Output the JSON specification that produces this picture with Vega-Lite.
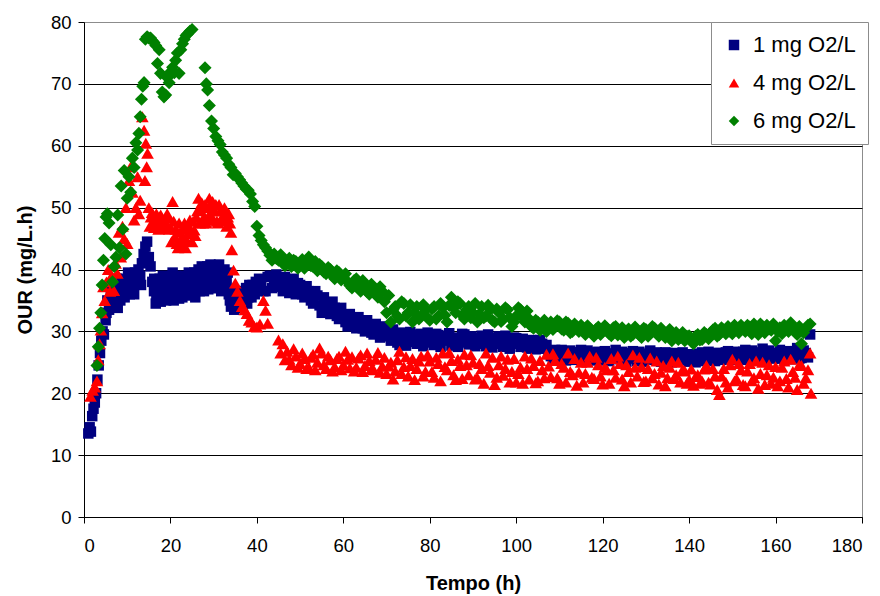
{
  "$schema": "https://vega.github.io/schema/vega-lite/v6.json",
  "width": 778,
  "height": 495,
  "autosize": {"type": "none"},
  "padding": {"left": 84, "top": 22, "right": 18, "bottom": 79},
  "background": "white",
  "config": {
    "view": {"stroke": "#8c8c8c", "strokeWidth": 1},
    "font": "Liberation Sans",
    "axis": {
      "domainColor": "black",
      "tickColor": "black",
      "labelColor": "black",
      "titleColor": "black",
      "labelFont": "Liberation Sans",
      "titleFont": "Liberation Sans",
      "labelFontSize": 18.5,
      "titleFontSize": 20,
      "titleFontWeight": "bold",
      "tickSize": 6
    },
    "legend": {
      "labelFont": "Liberation Sans",
      "labelFontSize": 22,
      "labelColor": "black"
    }
  },
  "datasets": {
    "b": [
      {"t":1.0,"v":13.5},{"t":1.3,"v":14.5},{"t":1.6,"v":13.8},{"t":1.9,"v":16.3},{"t":2.2,"v":17.5},{"t":2.5,"v":18.5},{"t":2.8,"v":20},{"t":3.1,"v":22.2},{"t":3.4,"v":24.5},{"t":3.7,"v":26.5},
      {"t":4.0,"v":28.5},{"t":4.3,"v":30},{"t":4.6,"v":29.5},{"t":5.0,"v":31.8},{"t":5.4,"v":35},{"t":5.8,"v":33.5},{"t":6.2,"v":36},{"t":6.6,"v":34.5},{"t":7.0,"v":37},{"t":7.4,"v":35.5},
      {"t":7.8,"v":33.8},{"t":8.2,"v":37.5},{"t":8.6,"v":36},{"t":9.0,"v":38.5},{"t":9.4,"v":35.5},{"t":9.8,"v":37},{"t":10.2,"v":39.5},{"t":10.6,"v":36},{"t":11.0,"v":38},{"t":11.4,"v":37},
      {"t":11.8,"v":39.5},{"t":12.2,"v":38},{"t":12.6,"v":40},{"t":13.0,"v":39},{"t":13.4,"v":41},{"t":13.8,"v":42.5},{"t":14.2,"v":43.7},{"t":14.6,"v":44.5},{"t":15.0,"v":42},{"t":15.4,"v":40.5},
      {"t":5.2,"v":33},{"t":6.0,"v":37.5},{"t":6.8,"v":36},{"t":7.6,"v":38.5},{"t":8.4,"v":35},{"t":9.2,"v":36.8},{"t":10.0,"v":37.5},{"t":10.8,"v":38.5},{"t":11.6,"v":36},{"t":12.4,"v":39},{"t":13.2,"v":37.5},
      {"t":15.8,"v":38},{"t":16.2,"v":36.5},{"t":16.6,"v":34.5},{"t":17.0,"v":35.5},{"t":17.5,"v":38.5},{"t":18.0,"v":36},{"t":18.5,"v":37.5},{"t":19.0,"v":35},{"t":19.5,"v":38.8},{"t":20.0,"v":35.5},
      {"t":20.5,"v":39.5},{"t":21.0,"v":36.5},{"t":21.5,"v":38},{"t":22.0,"v":35.3},{"t":22.5,"v":37.5},{"t":23.0,"v":36.5},{"t":23.5,"v":39},{"t":24.0,"v":37},{"t":24.5,"v":38.5},{"t":25.0,"v":36},
      {"t":25.5,"v":39.5},{"t":26.0,"v":37.5},{"t":26.5,"v":40},{"t":27.0,"v":38},{"t":27.5,"v":39.5},{"t":28.0,"v":37.5},{"t":28.5,"v":40.5},{"t":29.0,"v":38.5},{"t":29.5,"v":39.8},{"t":30.0,"v":37.8},
      {"t":30.5,"v":40.5},{"t":31.0,"v":38.5},{"t":31.5,"v":39.5},{"t":32.0,"v":37.5},{"t":32.5,"v":40},{"t":33.0,"v":38},{"t":33.5,"v":36},{"t":34.0,"v":34},{"t":34.5,"v":35.5},{"t":35.0,"v":33.8},
      {"t":35.5,"v":36.5},{"t":36.0,"v":34.5},{"t":36.5,"v":36},{"t":37.0,"v":35},{"t":37.5,"v":37},{"t":38.0,"v":35.5},{"t":38.5,"v":36.5},{"t":39.0,"v":37.5},{"t":39.5,"v":36},{"t":40,"v":37},
      {"t":16.25,"v":38.5},{"t":16.75,"v":36},{"t":17.25,"v":37},{"t":17.75,"v":34.8},{"t":18.25,"v":39},{"t":18.75,"v":35.5},{"t":19.25,"v":37.5},{"t":19.75,"v":36.5},{"t":20.25,"v":37.8},{"t":20.75,"v":35},
      {"t":21.25,"v":39},{"t":21.75,"v":36.8},{"t":22.25,"v":38.8},{"t":22.75,"v":35.5},{"t":23.25,"v":37.8},{"t":23.75,"v":35.8},{"t":24.25,"v":39.5},{"t":24.75,"v":36.8},{"t":25.25,"v":38},{"t":25.75,"v":35.5},
      {"t":26.25,"v":38.8},{"t":26.75,"v":36.5},{"t":27.25,"v":40.5},{"t":27.75,"v":36.5},{"t":28.25,"v":38.8},{"t":28.75,"v":36.8},{"t":29.25,"v":40.8},{"t":29.75,"v":37},{"t":30.25,"v":39.2},{"t":30.75,"v":37},
      {"t":31.25,"v":40.8},{"t":31.75,"v":36.5},{"t":32.25,"v":38.8},{"t":32.75,"v":37.2},{"t":33.25,"v":39.5},{"t":33.75,"v":35},{"t":34.25,"v":36.8},{"t":34.75,"v":33.5},{"t":35.25,"v":35},{"t":35.75,"v":34},
      {"t":36.25,"v":36.5},{"t":36.75,"v":34},{"t":37.25,"v":36},{"t":37.75,"v":34.5},{"t":38.25,"v":37.5},{"t":38.75,"v":35.5},{"t":39.25,"v":36.5},{"t":39.75,"v":38},
      {"t":41,"v":38},{"t":42,"v":36.5},{"t":43,"v":39},{"t":44,"v":37.5},{"t":45,"v":38.5},{"t":46,"v":36.5},{"t":47,"v":38},{"t":48,"v":37},{"t":49,"v":36},{"t":50,"v":37.5},
      {"t":51,"v":35.5},{"t":52,"v":36.5},{"t":53,"v":34.5},{"t":54,"v":35.8},{"t":55,"v":33},{"t":56,"v":34.5},{"t":57,"v":32.8},{"t":58,"v":33.8},{"t":59,"v":32},{"t":60,"v":32.5},
      {"t":61,"v":30.8},{"t":62,"v":32},{"t":63,"v":30.5},{"t":64,"v":31.5},{"t":65,"v":30},{"t":66,"v":31},{"t":67,"v":29.5},{"t":68,"v":30.5},{"t":69,"v":29.2},{"t":70,"v":30},
      {"t":71,"v":28.5},{"t":72,"v":29.5},{"t":73,"v":27.8},{"t":74,"v":29.3},{"t":75,"v":28.3},{"t":76,"v":29.5},{"t":77,"v":28},{"t":78,"v":29.6},{"t":79,"v":28.2},{"t":80,"v":29},
      {"t":81,"v":27.8},{"t":82,"v":29.4},{"t":83,"v":28.5},{"t":84,"v":29.2},{"t":85,"v":27.7},{"t":86,"v":29},{"t":87,"v":28.2},{"t":88,"v":29.5},{"t":89,"v":27.9},{"t":90,"v":28.8},
      {"t":91,"v":28},{"t":92,"v":29.3},{"t":93,"v":27.6},{"t":94,"v":28.7},{"t":95,"v":28.4},{"t":96,"v":29.2},{"t":97,"v":27.5},{"t":98,"v":28.5},{"t":99,"v":28},{"t":100,"v":28.9},
      {"t":101,"v":27.5},{"t":102,"v":28.3},{"t":103,"v":27.2},{"t":104,"v":28.5},{"t":105,"v":27.3},{"t":106,"v":28},{"t":107,"v":27.8},{"t":108,"v":26},{"t":109,"v":27},{"t":110,"v":25.7},
      {"t":111,"v":26.8},{"t":112,"v":25.5},{"t":113,"v":26.6},{"t":114,"v":26},{"t":115,"v":27},{"t":116,"v":25.4},{"t":117,"v":26.5},{"t":118,"v":25.8},{"t":119,"v":26.7},{"t":120,"v":25.3},
      {"t":121,"v":26.4},{"t":122,"v":25.8},{"t":123,"v":27},{"t":124,"v":25.5},{"t":125,"v":26.5},{"t":126,"v":25.9},{"t":127,"v":26.8},{"t":128,"v":25.2},{"t":129,"v":26.3},{"t":130,"v":25.8},
      {"t":131,"v":26.9},{"t":132,"v":25.4},{"t":133,"v":26.2},{"t":134,"v":25.7},{"t":135,"v":26.5},{"t":136,"v":25},{"t":137,"v":26},{"t":138,"v":25.4},{"t":139,"v":26.3},{"t":140,"v":25.1},
      {"t":141,"v":26},{"t":142,"v":25.3},{"t":143,"v":26.6},{"t":144,"v":25.5},{"t":145,"v":26.2},{"t":146,"v":25.2},{"t":147,"v":26.5},{"t":148,"v":25.8},{"t":149,"v":26.8},{"t":150,"v":25.4},
      {"t":151,"v":26.3},{"t":152,"v":25.9},{"t":153,"v":27},{"t":154,"v":25.5},{"t":155,"v":26.5},{"t":156,"v":26},{"t":157,"v":27.2},{"t":158,"v":25.6},{"t":159,"v":26.4},{"t":160,"v":25.8},
      {"t":161,"v":27},{"t":162,"v":25.5},{"t":163,"v":26.6},{"t":164,"v":26},{"t":165,"v":27.3},{"t":166,"v":25.7},{"t":167,"v":26.5},{"t":168,"v":29.5},
      {"t":40.5,"v":38.5},{"t":41.5,"v":36.5},{"t":42.5,"v":38.8},{"t":43.5,"v":37},{"t":44.5,"v":39.2},{"t":45.5,"v":37.2},{"t":46.5,"v":38.8},{"t":47.5,"v":36.2},{"t":48.5,"v":38.5},{"t":49.5,"v":37.8},
      {"t":50.5,"v":36},{"t":51.5,"v":37.3},{"t":52.5,"v":35},{"t":53.5,"v":36.5},{"t":54.5,"v":34.2},{"t":55.5,"v":35.5},{"t":56.5,"v":33.2},{"t":57.5,"v":34.8},{"t":58.5,"v":32.5},{"t":59.5,"v":33.8},
      {"t":60.5,"v":31.5},{"t":61.5,"v":32.8},{"t":62.5,"v":31},{"t":63.5,"v":32.3},{"t":64.5,"v":30.5},{"t":65.5,"v":31.8},{"t":66.5,"v":29.8},{"t":67.5,"v":31.2},{"t":68.5,"v":29},{"t":69.5,"v":30.8},
      {"t":70.5,"v":29.5},{"t":71.5,"v":30.3},{"t":72.5,"v":28.2},{"t":73.5,"v":29.8},{"t":74.5,"v":27.7},{"t":75.5,"v":29.9},{"t":76.5,"v":28.6},{"t":77.5,"v":29.3},{"t":78.5,"v":27.6},{"t":79.5,"v":29.8},
      {"t":80.5,"v":28.4},{"t":81.5,"v":29.6},{"t":82.5,"v":27.5},{"t":83.5,"v":28.8},{"t":84.5,"v":29.7},{"t":85.5,"v":28.3},{"t":86.5,"v":27.5},{"t":87.5,"v":29.6},{"t":88.5,"v":28.5},{"t":89.5,"v":29.2},
      {"t":90.5,"v":27.6},{"t":91.5,"v":29},{"t":92.5,"v":28.3},{"t":93.5,"v":29.5},{"t":94.5,"v":27.4},{"t":95.5,"v":29},{"t":96.5,"v":28},{"t":97.5,"v":29.3},{"t":98.5,"v":27.2},{"t":99.5,"v":29},
      {"t":100.5,"v":28},{"t":101.5,"v":28.8},{"t":102.5,"v":27.4},{"t":103.5,"v":28.6},{"t":104.5,"v":27.1},{"t":105.5,"v":28.6},{"t":106.5,"v":27.2},{"t":107.5,"v":26.5},{"t":108.5,"v":25.5},{"t":109.5,"v":26.3},
      {"t":110.5,"v":27},{"t":111.5,"v":25.3},{"t":112.5,"v":26.9},{"t":113.5,"v":25.4},{"t":114.5,"v":26.6},{"t":115.5,"v":25.6},{"t":116.5,"v":26.9},{"t":117.5,"v":25.3},{"t":118.5,"v":26.6},{"t":119.5,"v":25.6},
      {"t":120.5,"v":26.8},{"t":121.5,"v":25.2},{"t":122.5,"v":26.4},{"t":123.5,"v":25.7},{"t":124.5,"v":26.7},{"t":125.5,"v":25.1},{"t":126.5,"v":26.4},{"t":127.5,"v":25.6},{"t":128.5,"v":26.7},{"t":129.5,"v":25.1},
      {"t":130.5,"v":26.4},{"t":131.5,"v":25.5},{"t":132.5,"v":26.6},{"t":133.5,"v":25.1},{"t":134.5,"v":26.6},{"t":135.5,"v":25.4},{"t":136.5,"v":26.5},{"t":137.5,"v":25.2},{"t":138.5,"v":26.6},{"t":139.5,"v":25.4},
      {"t":140.5,"v":26.3},{"t":141.5,"v":25},{"t":142.5,"v":26.4},{"t":143.5,"v":25.2},{"t":144.5,"v":26.7},{"t":145.5,"v":25.3},{"t":146.5,"v":26.5},{"t":147.5,"v":25.4},{"t":148.5,"v":26.6},{"t":149.5,"v":25.5},
      {"t":150.5,"v":26.7},{"t":151.5,"v":25.5},{"t":152.5,"v":26.7},{"t":153.5,"v":25.4},{"t":154.5,"v":26.9},{"t":155.5,"v":25.6},{"t":156.5,"v":26.6},{"t":157.5,"v":25.5},{"t":158.5,"v":26.9},{"t":159.5,"v":25.6},
      {"t":160.5,"v":26.5},{"t":161.5,"v":25.6},{"t":162.5,"v":26.8},{"t":163.5,"v":25.5},{"t":164.5,"v":26.8},{"t":165.5,"v":25.6},{"t":166.5,"v":26.9},{"t":167.5,"v":25.8}
    ],
    "r": [
      {"t":1.5,"v":19.5},{"t":2.0,"v":20.5},{"t":2.5,"v":21},{"t":3.0,"v":22},{"t":3.3,"v":25.4},{"t":3.6,"v":28},{"t":3.9,"v":30.2},{"t":4.2,"v":33},{"t":4.5,"v":37.2},{"t":4.8,"v":35},
      {"t":5.2,"v":38},{"t":5.6,"v":40},{"t":6.0,"v":36.5},{"t":6.4,"v":39},{"t":6.9,"v":36.6},{"t":7.3,"v":41},{"t":7.7,"v":39.4},{"t":8.1,"v":46},{"t":8.5,"v":42},{"t":8.9,"v":47},
      {"t":9.3,"v":45},{"t":9.7,"v":50},{"t":10.0,"v":44.2},{"t":10.4,"v":54.4},{"t":10.8,"v":56.6},{"t":11.2,"v":52.5},{"t":11.6,"v":48},{"t":12.0,"v":50},{"t":12.4,"v":55},{"t":12.7,"v":49},
      {"t":13.0,"v":51.2},{"t":13.5,"v":64.7},{"t":13.9,"v":62.5},{"t":14.1,"v":54.4},{"t":14.3,"v":60.4},{"t":14.5,"v":56.6},{"t":14.7,"v":58.8},{"t":15.0,"v":50},{"t":15.5,"v":48.5},{"t":16.0,"v":47.5},
      {"t":16.5,"v":48.3},{"t":17.0,"v":47.8},{"t":17.5,"v":48.5},{"t":18.0,"v":47.5},{"t":18.5,"v":48},{"t":19.0,"v":47.2},{"t":19.5,"v":48.3},{"t":20.0,"v":46.8},{"t":20.5,"v":51},{"t":21.0,"v":45.3},
      {"t":21.5,"v":44.2},{"t":22.0,"v":47.5},{"t":22.5,"v":45},{"t":23.0,"v":46.5},{"t":23.5,"v":43.5},{"t":24.0,"v":45.8},{"t":24.5,"v":48},{"t":25.0,"v":44.5},{"t":25.5,"v":46.4},{"t":26.0,"v":48.5},
      {"t":26.5,"v":51.5},{"t":27.0,"v":49.6},{"t":27.5,"v":47.5},{"t":28.0,"v":50.5},{"t":28.5,"v":48},{"t":29.0,"v":51.5},{"t":29.5,"v":49.5},{"t":30.0,"v":48},{"t":30.5,"v":50.5},{"t":31.0,"v":47.5},
      {"t":31.5,"v":49.5},{"t":32.0,"v":48.5},{"t":32.5,"v":50},{"t":33.0,"v":47},{"t":33.5,"v":49},{"t":34.0,"v":46},{"t":34.2,"v":43.2},{"t":34.6,"v":39.9},{"t":35.0,"v":37.8},{"t":35.5,"v":36.5},
      {"t":15.25,"v":47},{"t":15.75,"v":49.2},{"t":16.25,"v":46.8},{"t":16.75,"v":49},{"t":17.25,"v":46.5},{"t":17.75,"v":48.8},{"t":18.25,"v":46.8},{"t":18.75,"v":47.5},{"t":19.25,"v":49},{"t":19.75,"v":46.5},
      {"t":20.25,"v":44.5},{"t":20.75,"v":47.8},{"t":21.25,"v":46.5},{"t":21.75,"v":43.5},{"t":22.25,"v":46},{"t":22.75,"v":44},{"t":23.25,"v":47.5},{"t":23.75,"v":44.8},{"t":24.25,"v":47},{"t":24.75,"v":46},
      {"t":25.25,"v":47.8},{"t":25.75,"v":45.5},{"t":26.25,"v":49.5},{"t":26.75,"v":47.5},{"t":27.25,"v":50.8},{"t":27.75,"v":48.5},{"t":28.25,"v":47.5},{"t":28.75,"v":50},{"t":29.25,"v":48.5},{"t":29.75,"v":51},
      {"t":30.25,"v":49.5},{"t":30.75,"v":47.8},{"t":31.25,"v":50.5},{"t":31.75,"v":48},{"t":32.25,"v":49.5},{"t":32.75,"v":47.8},{"t":33.25,"v":48.5},{"t":33.75,"v":47.5},
      {"t":36.1,"v":35},{"t":36.6,"v":34},{"t":37.2,"v":33.5},{"t":37.7,"v":32.9},{"t":38.2,"v":31.8},{"t":38.8,"v":31.5},{"t":39.4,"v":30.8},{"t":40.0,"v":30.7},{"t":40.7,"v":31.2},{"t":41.5,"v":35},
      {"t":42.0,"v":33.4},{"t":42.5,"v":31.3},{"t":45.0,"v":28.6},{"t":45.5,"v":26.5},{"t":46.0,"v":28},{"t":46.5,"v":25.4},{"t":47,"v":26.8},{"t":48,"v":24.6},{"t":49,"v":26},{"t":50,"v":24.8},
      {"t":51,"v":25.6},{"t":52,"v":24.2},{"t":53,"v":26.3},{"t":54,"v":25},{"t":55,"v":26.5},{"t":56,"v":24},{"t":57,"v":25.4},{"t":58,"v":24.3},{"t":59,"v":26},{"t":60,"v":24.6},
      {"t":61,"v":25.5},{"t":62,"v":25.9},{"t":63,"v":24.2},{"t":64,"v":26.2},{"t":65,"v":24.5},{"t":66,"v":25.3},{"t":67,"v":23.8},{"t":68,"v":26.6},{"t":69,"v":24.4},{"t":70,"v":23.2},
      {"t":71,"v":25},{"t":72,"v":23.6},{"t":73,"v":26.8},{"t":74,"v":24.3},{"t":75,"v":22.8},{"t":76,"v":25.6},{"t":77,"v":24},{"t":78,"v":26},{"t":79,"v":23.5},{"t":80,"v":25.2},
      {"t":81,"v":22.6},{"t":82,"v":24.8},{"t":83,"v":26.5},{"t":84,"v":23.8},{"t":85,"v":25.3},{"t":86,"v":22.2},{"t":87,"v":24.5},{"t":88,"v":26.3},{"t":89,"v":23},{"t":90,"v":25},
      {"t":91,"v":22.5},{"t":92,"v":24},{"t":93,"v":26.5},{"t":94,"v":23.4},{"t":95,"v":21.4},{"t":96,"v":24.6},{"t":97,"v":22.9},{"t":98,"v":25.5},{"t":99,"v":23.5},{"t":100,"v":21.8},
      {"t":101,"v":24.2},{"t":102,"v":26},{"t":103,"v":22.3},{"t":104,"v":24.5},{"t":105,"v":22},{"t":106,"v":23.8},{"t":107,"v":26.3},{"t":108,"v":22.7},{"t":109,"v":25.3},{"t":110,"v":21.6},
      {"t":111,"v":24.2},{"t":112,"v":26.5},{"t":113,"v":23},{"t":114,"v":21.3},{"t":115,"v":25},{"t":116,"v":23.2},{"t":117,"v":26},{"t":118,"v":22.4},{"t":119,"v":24.6},{"t":120,"v":21.5},
      {"t":121,"v":23.8},{"t":122,"v":25.6},{"t":123,"v":22.6},{"t":124,"v":24.8},{"t":125,"v":21.2},{"t":126,"v":23.5},{"t":127,"v":26.2},{"t":128,"v":22.8},{"t":129,"v":24.3},{"t":130,"v":22},
      {"t":131,"v":25.7},{"t":132,"v":23.2},{"t":133,"v":21.5},{"t":134,"v":24.5},{"t":135,"v":22.5},{"t":136,"v":25.2},{"t":137,"v":23},{"t":138,"v":21.8},{"t":139,"v":23.6},{"t":140,"v":22.2},
      {"t":141,"v":21.3},{"t":142,"v":23},{"t":143,"v":22},{"t":144,"v":24.5},{"t":145,"v":21.5},{"t":146,"v":22.8},{"t":147,"v":19.8},{"t":148,"v":24},{"t":149,"v":21},{"t":150,"v":25.5},
      {"t":151,"v":22.3},{"t":152,"v":23.8},{"t":153,"v":21.2},{"t":154,"v":24.8},{"t":155,"v":22.5},{"t":156,"v":20.8},{"t":157,"v":25},{"t":158,"v":23},{"t":159,"v":21.6},{"t":160,"v":24.3},
      {"t":161,"v":22},{"t":162,"v":25.2},{"t":163,"v":21},{"t":164,"v":23.5},{"t":165,"v":20.6},{"t":166,"v":24.5},{"t":167,"v":22.5},{"t":168,"v":26.5},{"t":168.2,"v":20},
      {"t":47.5,"v":25.5},{"t":48.5,"v":27.2},{"t":49.5,"v":24.2},{"t":50.5,"v":26.5},{"t":51.5,"v":24},{"t":52.5,"v":25.8},{"t":53.5,"v":23.8},{"t":54.5,"v":27.3},{"t":55.5,"v":24.6},{"t":56.5,"v":26},
      {"t":57.5,"v":23.6},{"t":58.5,"v":25.6},{"t":59.5,"v":23.8},{"t":60.5,"v":26.8},{"t":61.5,"v":24.1},{"t":62.5,"v":23.6},{"t":63.5,"v":25.7},{"t":64.5,"v":23.5},{"t":65.5,"v":26.5},{"t":66.5,"v":23.9},
      {"t":67.5,"v":25.5},{"t":68.5,"v":23.4},{"t":69.5,"v":25.8},{"t":70.5,"v":24.4},{"t":71.5,"v":22.3},{"t":72.5,"v":25.4},{"t":73.5,"v":23.2},{"t":74.5,"v":25.9},{"t":75.5,"v":24.5},{"t":76.5,"v":22.2},
      {"t":77.5,"v":25.2},{"t":78.5,"v":22.8},{"t":79.5,"v":26.2},{"t":80.5,"v":23.5},{"t":81.5,"v":25.8},{"t":82.5,"v":22},{"t":83.5,"v":24.3},{"t":84.5,"v":26.6},{"t":85.5,"v":23},{"t":86.5,"v":25.5},
      {"t":87.5,"v":22.4},{"t":88.5,"v":24.6},{"t":89.5,"v":26.2},{"t":90.5,"v":22.3},{"t":91.5,"v":24.8},{"t":92.5,"v":21.6},{"t":93.5,"v":24.5},{"t":94.5,"v":25.8},{"t":95.5,"v":22.6},{"t":96.5,"v":26},
      {"t":97.5,"v":24},{"t":98.5,"v":21.8},{"t":99.5,"v":25.6},{"t":100.5,"v":23.2},{"t":101.5,"v":21.6},{"t":102.5,"v":24},{"t":103.5,"v":25.7},{"t":104.5,"v":21.7},{"t":105.5,"v":25.3},{"t":106.5,"v":22.5},
      {"t":107.5,"v":24.4},{"t":108.5,"v":26.4},{"t":109.5,"v":22.5},{"t":110.5,"v":24.8},{"t":111.5,"v":21.8},{"t":112.5,"v":23.5},{"t":113.5,"v":25.6},{"t":114.5,"v":23.4},{"t":115.5,"v":21.8},{"t":116.5,"v":25},
      {"t":117.5,"v":22.6},{"t":118.5,"v":25.8},{"t":119.5,"v":22.8},{"t":120.5,"v":24.2},{"t":121.5,"v":21.6},{"t":122.5,"v":23.8},{"t":123.5,"v":26},{"t":124.5,"v":22.3},{"t":125.5,"v":24.6},{"t":126.5,"v":21.8},
      {"t":127.5,"v":24.2},{"t":128.5,"v":25.8},{"t":129.5,"v":21.9},{"t":130.5,"v":24},{"t":131.5,"v":22.5},{"t":132.5,"v":25.2},{"t":133.5,"v":23.4},{"t":134.5,"v":21.2},{"t":135.5,"v":24.2},{"t":136.5,"v":22.4},
      {"t":137.5,"v":25},{"t":138.5,"v":23.8},{"t":139.5,"v":21.6},{"t":140.5,"v":23.9},{"t":141.5,"v":22.7},{"t":142.5,"v":21.6},{"t":143.5,"v":23.9},{"t":144.5,"v":21.8},{"t":145.5,"v":24},{"t":146.5,"v":20.6},
      {"t":147.5,"v":22.8},{"t":148.5,"v":21.8},{"t":149.5,"v":24.6},{"t":150.5,"v":22},{"t":151.5,"v":24.8},{"t":152.5,"v":21.4},{"t":153.5,"v":23.6},{"t":154.5,"v":22},{"t":155.5,"v":25.2},{"t":156.5,"v":23.2},
      {"t":157.5,"v":21.4},{"t":158.5,"v":24.6},{"t":159.5,"v":22.6},{"t":160.5,"v":21.2},{"t":161.5,"v":24.2},{"t":162.5,"v":22.4},{"t":163.5,"v":25.5},{"t":164.5,"v":22.6},{"t":165.5,"v":24.6},{"t":166.5,"v":21.6},
      {"t":167.5,"v":23.8}
    ],
    "g": [
      {"t":3.0,"v":24.5},{"t":3.3,"v":27.5},{"t":3.6,"v":30.5},{"t":3.9,"v":33},{"t":4.2,"v":37.5},{"t":4.5,"v":41.5},{"t":4.8,"v":45},{"t":5.1,"v":48.5},{"t":5.4,"v":49},{"t":5.8,"v":47.5},
      {"t":6.2,"v":44},{"t":6.6,"v":38},{"t":7.0,"v":40.5},{"t":7.4,"v":42},{"t":7.8,"v":48.8},{"t":8.2,"v":43.5},{"t":8.6,"v":53.5},{"t":9.0,"v":46.5},{"t":9.3,"v":56},{"t":9.7,"v":42.5},
      {"t":10.0,"v":51.5},{"t":10.4,"v":55},{"t":10.8,"v":52.5},{"t":11.2,"v":58},{"t":11.6,"v":56.5},{"t":12.0,"v":60.5},{"t":12.4,"v":59.3},{"t":12.7,"v":62},{"t":13.0,"v":64.7},{"t":13.3,"v":67.5},
      {"t":13.6,"v":69.6},{"t":13.9,"v":70.2},{"t":14.2,"v":77.2},{"t":14.6,"v":77.6},{"t":15.0,"v":77.4},{"t":15.4,"v":77.4},{"t":15.8,"v":77},{"t":16.2,"v":76.7},{"t":16.6,"v":76.2},{"t":17.0,"v":73.3},
      {"t":17.4,"v":75.5},{"t":17.7,"v":71.7},{"t":18.1,"v":68.7},{"t":18.5,"v":67.9},{"t":18.9,"v":68.2},{"t":19.3,"v":71},{"t":19.7,"v":70.2},{"t":20.1,"v":72},{"t":20.5,"v":72.7},{"t":20.9,"v":71.8},
      {"t":21.2,"v":73.8},{"t":21.6,"v":75},{"t":22.0,"v":71.7},{"t":22.4,"v":75.5},{"t":22.8,"v":76.5},{"t":23.2,"v":77.2},{"t":23.6,"v":77.8},{"t":24.0,"v":78.1},{"t":24.5,"v":78.5},{"t":25.0,"v":78.8},
      {"t":28.0,"v":72.6},{"t":28.3,"v":70},{"t":28.6,"v":69},{"t":29.0,"v":66.5},{"t":29.5,"v":64},{"t":30.0,"v":62.8},{"t":30.5,"v":61.5},{"t":31.0,"v":60.8},{"t":31.5,"v":60.2},{"t":32.0,"v":59},
      {"t":32.5,"v":58.5},{"t":33.0,"v":58},{"t":33.5,"v":57},{"t":34.0,"v":56.5},{"t":34.5,"v":55.3},{"t":35.0,"v":55.5},{"t":35.5,"v":55},{"t":36.0,"v":54.5},{"t":36.5,"v":54},{"t":37.0,"v":53.5},
      {"t":37.5,"v":53},{"t":38.0,"v":52.8},{"t":38.5,"v":52.2},{"t":39.0,"v":51},{"t":39.5,"v":50.2},{"t":40.0,"v":47},{"t":40.5,"v":45.5},{"t":41,"v":44.7},{"t":41.5,"v":44},{"t":42,"v":43.5},
      {"t":43,"v":42.3},{"t":44,"v":42.5},{"t":45,"v":41.5},{"t":46,"v":41.2},{"t":47,"v":41},{"t":48,"v":40.5},{"t":49,"v":41.3},{"t":50,"v":40.8},{"t":51,"v":40.2},{"t":52,"v":42},
      {"t":53,"v":40.5},{"t":54,"v":39.8},{"t":55,"v":40.5},{"t":56,"v":39.3},{"t":57,"v":40},{"t":58,"v":38.5},{"t":59,"v":39.5},{"t":60,"v":38.8},{"t":61,"v":38},{"t":62,"v":37},
      {"t":63,"v":38.5},{"t":64,"v":36.5},{"t":65,"v":37.5},{"t":66,"v":36},{"t":67,"v":37},{"t":68,"v":35.5},{"t":69,"v":36.5},{"t":70,"v":33},{"t":71,"v":31.5},{"t":72,"v":34},
      {"t":73,"v":32},{"t":74,"v":34.5},{"t":75,"v":33},{"t":76,"v":31.5},{"t":77,"v":34},{"t":78,"v":32.5},{"t":79,"v":33.5},{"t":80,"v":31.8},{"t":81,"v":34},{"t":82,"v":32.5},
      {"t":83,"v":33.8},{"t":84,"v":31.5},{"t":85,"v":35.5},{"t":86,"v":33},{"t":87,"v":34.5},{"t":88,"v":32},{"t":89,"v":34},{"t":90,"v":33},{"t":91,"v":31.5},{"t":92,"v":34},
      {"t":93,"v":32.5},{"t":94,"v":33.5},{"t":95,"v":31.5},{"t":96,"v":33},{"t":97,"v":32},{"t":98,"v":33.5},{"t":99,"v":30.8},{"t":100,"v":32.5},{"t":101,"v":33.5},{"t":102,"v":31.5},
      {"t":103,"v":32},{"t":104,"v":30.5},{"t":105,"v":31.5},{"t":106,"v":30.5},{"t":107,"v":30},{"t":108,"v":31.5},{"t":109,"v":30.8},{"t":110,"v":31.5},{"t":111,"v":30.2},{"t":112,"v":31.3},
      {"t":113,"v":30},{"t":114,"v":30.8},{"t":115,"v":31},{"t":116,"v":29.5},{"t":117,"v":30.5},{"t":118,"v":29.2},{"t":119,"v":30.7},{"t":120,"v":30},{"t":121,"v":30.5},{"t":122,"v":29.3},
      {"t":123,"v":30.8},{"t":124,"v":29.8},{"t":125,"v":29},{"t":126,"v":30.4},{"t":127,"v":29.5},{"t":128,"v":30.2},{"t":129,"v":29},{"t":130,"v":30.3},{"t":131,"v":29.6},{"t":132,"v":30.5},
      {"t":133,"v":29.2},{"t":134,"v":30},{"t":135,"v":29.5},{"t":136,"v":28.5},{"t":137,"v":29.8},{"t":138,"v":29},{"t":139,"v":28.5},{"t":140,"v":29.3},{"t":141,"v":28},{"t":142,"v":29.5},
      {"t":143,"v":28.7},{"t":144,"v":29.5},{"t":145,"v":29.8},{"t":146,"v":30.5},{"t":147,"v":29.5},{"t":148,"v":30.2},{"t":149,"v":30.8},{"t":150,"v":29.6},{"t":151,"v":30.5},{"t":152,"v":31},
      {"t":153,"v":30},{"t":154,"v":30.7},{"t":155,"v":31.2},{"t":156,"v":29.5},{"t":157,"v":30.5},{"t":158,"v":31},{"t":159,"v":30.2},{"t":160,"v":28.5},{"t":161,"v":30.6},{"t":162,"v":31},
      {"t":163,"v":30},{"t":164,"v":30.8},{"t":165,"v":29.5},{"t":166,"v":28},{"t":167,"v":30.5},{"t":168,"v":31.2},
      {"t":42.5,"v":43},{"t":43.5,"v":41.5},{"t":44.5,"v":41.8},{"t":45.5,"v":42.4},{"t":46.5,"v":40.6},{"t":47.5,"v":41.8},{"t":48.5,"v":41.5},{"t":49.5,"v":40.2},{"t":50.5,"v":41.6},{"t":51.5,"v":41},
      {"t":52.5,"v":40.6},{"t":53.5,"v":41.3},{"t":54.5,"v":40.8},{"t":55.5,"v":39.6},{"t":56.5,"v":40.3},{"t":57.5,"v":39},{"t":58.5,"v":39.8},{"t":59.5,"v":38.3},{"t":60.5,"v":39.3},{"t":61.5,"v":37.4},
      {"t":62.5,"v":38.2},{"t":63.5,"v":37.3},{"t":64.5,"v":38.2},{"t":65.5,"v":36.4},{"t":66.5,"v":37.6},{"t":67.5,"v":36.3},{"t":68.5,"v":37.2},{"t":69.5,"v":34.8},{"t":70.5,"v":35.8},{"t":71.5,"v":33.5},
      {"t":72.5,"v":32.5},{"t":73.5,"v":34.8},{"t":74.5,"v":32.5},{"t":75.5,"v":34.3},{"t":76.5,"v":33},{"t":77.5,"v":32},{"t":78.5,"v":34.3},{"t":79.5,"v":32.2},{"t":80.5,"v":33.6},{"t":81.5,"v":32},
      {"t":82.5,"v":34.5},{"t":83.5,"v":32.6},{"t":84.5,"v":34.2},{"t":85.5,"v":33.8},{"t":86.5,"v":34.8},{"t":87.5,"v":32.6},{"t":88.5,"v":33.5},{"t":89.5,"v":32.2},{"t":90.5,"v":34.5},{"t":91.5,"v":32.8},
      {"t":92.5,"v":32.2},{"t":93.5,"v":34.2},{"t":94.5,"v":31.8},{"t":95.5,"v":33.6},{"t":96.5,"v":31.6},{"t":97.5,"v":33.8},{"t":98.5,"v":32.2},{"t":99.5,"v":31.5},{"t":100.5,"v":33.8},{"t":101.5,"v":32.2},
      {"t":102.5,"v":33.3},{"t":103.5,"v":30.8},{"t":104.5,"v":31.8},{"t":105.5,"v":30.2},{"t":106.5,"v":31.8},{"t":107.5,"v":30.8},{"t":108.5,"v":30.3},{"t":109.5,"v":31.7},{"t":110.5,"v":30.4},{"t":111.5,"v":31.5},
      {"t":112.5,"v":29.8},{"t":113.5,"v":31.2},{"t":114.5,"v":30},{"t":115.5,"v":30.3},{"t":116.5,"v":30.9},{"t":117.5,"v":29.8},{"t":118.5,"v":30.4},{"t":119.5,"v":29.5},{"t":120.5,"v":30.9},{"t":121.5,"v":29.6},
      {"t":122.5,"v":30.6},{"t":123.5,"v":29.4},{"t":124.5,"v":30.6},{"t":125.5,"v":30},{"t":126.5,"v":29.2},{"t":127.5,"v":30.7},{"t":128.5,"v":29.4},{"t":129.5,"v":30.5},{"t":130.5,"v":29.2},{"t":131.5,"v":30.8},
      {"t":132.5,"v":29.8},{"t":133.5,"v":30.5},{"t":134.5,"v":29},{"t":135.5,"v":30.3},{"t":136.5,"v":29.4},{"t":137.5,"v":28.7},{"t":138.5,"v":29.8},{"t":139.5,"v":29.2},{"t":140.5,"v":28.4},{"t":141.5,"v":29.2},
      {"t":142.5,"v":28.6},{"t":143.5,"v":29.8},{"t":144.5,"v":28.8},{"t":145.5,"v":30.2},{"t":146.5,"v":29.2},{"t":147.5,"v":30.6},{"t":148.5,"v":29.6},{"t":149.5,"v":30},{"t":150.5,"v":31},{"t":151.5,"v":29.8},
      {"t":152.5,"v":30.4},{"t":153.5,"v":31},{"t":154.5,"v":29.6},{"t":155.5,"v":30.5},{"t":156.5,"v":31.2},{"t":157.5,"v":29.8},{"t":158.5,"v":30.4},{"t":159.5,"v":31.2},{"t":160.5,"v":30},{"t":161.5,"v":29.6},
      {"t":162.5,"v":30.6},{"t":163.5,"v":31.4},{"t":164.5,"v":29.9},{"t":165.5,"v":30.8},{"t":166.5,"v":29.8},{"t":167.5,"v":31}
    ]
  },
  "encoding": {
    "x": {
      "field": "t", "type": "quantitative",
      "scale": {"domain": [0, 180], "nice": false},
      "axis": {
        "title": "Tempo (h)",
        "values": [0, 20, 40, 60, 80, 100, 120, 140, 160, 180],
        "grid": false,
        "labelPadding": 13,
        "titlePadding": 19
      }
    },
    "y": {
      "field": "v", "type": "quantitative",
      "scale": {"domain": [0, 80], "nice": false},
      "axis": {
        "title": "OUR (mg/L.h)",
        "values": [0, 10, 20, 30, 40, 50, 60, 70, 80],
        "grid": true,
        "gridColor": {"condition": {"test": "datum.value === 80", "value": "#8c8c8c"}, "value": "black"},
        "gridWidth": 1,
        "labelPadding": 7,
        "titlePadding": 15
      }
    }
  },
  "layer": [
    {
      "data": {"name": "b"},
      "mark": {"type": "point", "filled": true, "opacity": 1, "size": 110, "strokeWidth": 0},
      "encoding": {
        "color": {
          "datum": "1 mg O2/L",
          "type": "nominal",
          "scale": {"domain": ["1 mg O2/L", "4 mg O2/L", "6 mg O2/L"], "range": ["#000080", "#ff0000", "#008000"]},
          "legend": {
            "title": null,
            "orient": "none",
            "legendX": 627,
            "legendY": 0,
            "fillColor": "white",
            "strokeColor": "#8c8c8c",
            "padding": 12,
            "rowPadding": 16,
            "symbolSize": 110,
            "symbolStrokeWidth": 0,
            "labelOffset": 8
          }
        },
        "shape": {
          "datum": "1 mg O2/L",
          "type": "nominal",
          "scale": {"domain": ["1 mg O2/L", "4 mg O2/L", "6 mg O2/L"], "range": ["square", "triangle-up", "diamond"]}
        }
      }
    },
    {
      "data": {"name": "r"},
      "mark": {"type": "point", "filled": true, "opacity": 1, "size": 160, "strokeWidth": 0},
      "encoding": {
        "color": {"datum": "4 mg O2/L", "type": "nominal"},
        "shape": {"datum": "4 mg O2/L", "type": "nominal"}
      }
    },
    {
      "data": {"name": "g"},
      "mark": {"type": "point", "filled": true, "opacity": 1, "size": 170, "strokeWidth": 0},
      "encoding": {
        "color": {"datum": "6 mg O2/L", "type": "nominal"},
        "shape": {"datum": "6 mg O2/L", "type": "nominal"}
      }
    }
  ]
}
